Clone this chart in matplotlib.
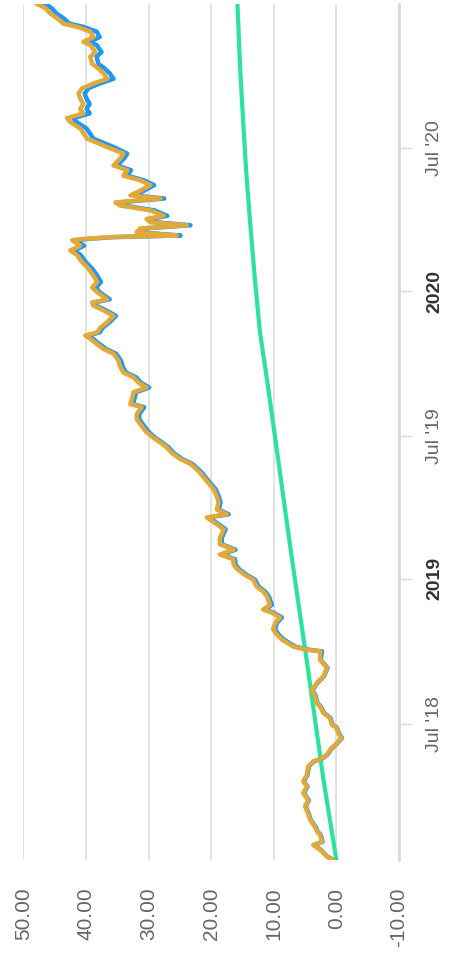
import matplotlib
matplotlib.use("Agg")
import matplotlib.pyplot as plt
import pandas as pd

# shared dates for the two return series
dates = [
    "2018-01-09", "2018-01-13", "2018-01-22", "2018-01-28",
    "2018-02-01", "2018-02-10", "2018-02-14", "2018-02-20",
    "2018-03-01", "2018-03-09", "2018-03-18", "2018-03-26",
    "2018-04-04", "2018-04-12", "2018-04-19", "2018-04-27",
    "2018-05-08", "2018-05-14", "2018-05-18", "2018-05-23", "2018-05-29",
    "2018-06-06", "2018-06-13", "2018-06-19", "2018-06-26", "2018-06-30",
    "2018-07-08", "2018-07-15", "2018-07-23", "2018-07-27",
    "2018-08-05", "2018-08-13", "2018-08-22", "2018-08-30",
    "2018-09-10", "2018-09-20",
    "2018-10-01", "2018-10-03", "2018-10-07", "2018-10-12", "2018-10-16", "2018-10-22", "2018-10-29",
    "2018-11-06", "2018-11-13", "2018-11-19", "2018-11-23", "2018-11-29",
    "2018-12-10", "2018-12-16", "2018-12-22", "2018-12-31",
    "2019-01-06", "2019-01-13", "2019-01-19", "2019-01-26",
    "2019-02-01", "2019-02-07", "2019-02-14", "2019-02-22",
    "2019-03-05", "2019-03-13", "2019-03-20", "2019-03-24", "2019-03-30",
    "2019-04-08", "2019-04-16", "2019-04-25",
    "2019-05-05", "2019-05-16", "2019-05-22", "2019-05-27",
    "2019-06-02", "2019-06-10", "2019-06-17", "2019-06-23", "2019-06-29",
    "2019-07-06", "2019-07-14", "2019-07-23", "2019-07-29",
    "2019-08-07", "2019-08-11", "2019-08-19", "2019-08-26",
    "2019-09-01", "2019-09-07", "2019-09-14", "2019-09-20", "2019-09-27",
    "2019-10-05", "2019-10-14", "2019-10-20", "2019-10-26",
    "2019-11-02", "2019-11-06", "2019-11-10", "2019-11-16", "2019-11-23",
    "2019-12-01", "2019-12-08", "2019-12-14", "2019-12-18", "2019-12-22", "2019-12-31",
    "2020-01-06", "2020-01-13", "2020-01-21", "2020-01-30",
    "2020-02-07", "2020-02-16", "2020-02-22", "2020-02-28",
    "2020-03-06", "2020-03-08", "2020-03-10", "2020-03-12", "2020-03-16", "2020-03-21", "2020-03-25", "2020-03-29",
    "2020-04-02", "2020-04-06", "2020-04-13", "2020-04-19", "2020-04-23", "2020-04-28",
    "2020-05-02", "2020-05-08", "2020-05-15", "2020-05-21", "2020-05-27",
    "2020-06-03", "2020-06-09", "2020-06-18", "2020-06-24",
    "2020-07-01", "2020-07-07", "2020-07-13", "2020-07-26",
    "2020-08-03", "2020-08-08", "2020-08-14", "2020-08-20", "2020-08-26",
    "2020-09-02", "2020-09-08", "2020-09-15", "2020-09-21", "2020-09-27",
    "2020-10-04", "2020-10-10", "2020-10-16", "2020-10-25", "2020-10-31",
    "2020-11-09", "2020-11-13", "2020-11-19", "2020-11-26",
    "2020-12-02", "2020-12-06", "2020-12-13", "2020-12-19", "2020-12-26", "2020-12-31",
]

portfolio = [
    0.5, 1.5, 2.6, 3.7,
    2.3, 2.6, 3.1, 3.4,
    4.2, 4.5, 5.0, 4.5,
    5.3, 4.7, 5.3, 4.7,
    4.5, 3.7, 2.3, 1.5, 1.0,
    0.0, -0.8, -0.3, 0.0, 0.75,
    1.0, 2.1, 2.6, 3.1,
    3.4, 3.9, 3.1, 2.1,
    1.5, 2.6,
    2.6, 4.7, 6.9, 7.9, 8.7, 9.5, 10.1,
    9.8, 9.0, 10.3, 11.7, 10.6,
    11.1, 11.7, 12.7, 13.3,
    14.6, 15.8, 16.4, 16.5,
    18.6, 16.4, 18.6, 18.6,
    18.0, 19.4, 20.7, 17.5, 19.1,
    18.8, 19.1, 19.6,
    20.7, 21.8, 22.6, 23.3,
    24.9, 26.3, 27.1, 28.1, 29.2,
    30.3, 31.1, 31.9, 31.9,
    31.1, 32.9, 32.6, 32.4,
    30.3, 31.6, 32.4, 34.0, 34.5,
    34.8, 35.6, 37.2, 38.2,
    39.3, 40.1, 38.2, 37.7, 36.6,
    35.6, 37.2, 38.8, 39.0, 36.6, 38.2,
    39.0, 38.2, 38.8, 39.6,
    40.6, 41.4, 42.5, 40.9,
    42.2, 39.8, 36.1, 25.5, 31.9, 31.3, 23.9, 29.7,
    30.3, 27.6, 29.7, 34.5, 35.3, 28.1,
    32.9, 31.3, 29.7, 31.3, 34.0,
    33.4, 35.6, 34.5, 34.0,
    36.2, 38.0, 39.8, 40.9,
    42.5, 43.0, 40.4, 40.9, 40.4,
    40.9, 41.2, 40.6, 38.8, 36.6,
    37.2, 38.0, 39.0, 39.3, 38.5,
    39.3, 40.4, 38.8, 39.3,
    41.4, 43.6, 44.6, 45.7, 46.5, 47.8,
]

index_fund = [
    0.4, 1.4, 2.5, 3.6,
    2.2, 2.5, 3.0, 3.3,
    4.1, 4.4, 4.9, 4.4,
    5.2, 4.6, 5.2, 4.6,
    4.4, 3.6, 2.2, 1.4, 0.9,
    -0.1, -0.9, -0.4, -0.1, 0.65,
    0.9, 2.0, 2.5, 3.0,
    3.3, 3.8, 3.0, 2.0,
    1.4, 2.5,
    2.3, 4.4, 6.6, 7.6, 8.4, 9.2, 9.8,
    9.5, 8.7, 10.0, 11.4, 10.3,
    10.8, 11.4, 12.4, 13.0,
    14.3, 15.5, 16.1, 16.2,
    18.3, 16.1, 18.3, 18.3,
    17.7, 19.1, 20.4, 17.2, 18.8,
    18.5, 18.8, 19.3,
    20.4, 21.5, 22.3, 23.0,
    24.6, 26.0, 26.8, 27.8, 28.9,
    29.9, 30.7, 31.5, 31.5,
    30.7, 32.5, 32.2, 32.0,
    29.9, 31.2, 32.0, 33.6, 34.1,
    34.4, 35.2, 36.8, 37.8,
    38.9, 39.7, 37.8, 37.3, 36.2,
    35.2, 36.8, 38.4, 38.6, 36.2, 37.8,
    38.4, 37.6, 38.2, 39.0,
    40.0, 40.8, 41.9, 40.3,
    41.6, 39.2, 35.5, 24.9, 31.3, 30.7, 23.3, 29.1,
    29.7, 27.0, 29.1, 33.9, 34.7, 27.5,
    32.3, 30.7, 29.1, 30.7, 33.4,
    32.8, 35.0, 33.9, 33.4,
    35.2, 37.0, 38.8, 39.9,
    41.5, 42.0, 39.4, 39.9, 39.4,
    39.9, 40.2, 39.6, 37.8, 35.6,
    36.2, 37.0, 38.0, 38.3, 37.5,
    38.3, 39.4, 37.8, 38.3,
    40.4, 42.6, 43.6, 44.7, 45.5, 46.5,
]

benchmark_dates = [
    "2018-01-09", "2018-04-23", "2018-09-12", "2019-02-01", "2019-07-06",
    "2019-09-01", "2019-11-10", "2020-01-15", "2020-03-31", "2020-06-01",
    "2020-08-19", "2020-10-15", "2020-12-31",
]
benchmark = [0.0, 2.1, 4.6, 7.2, 9.9, 10.9, 12.2, 13.0, 13.8, 14.4, 15.0, 15.4, 15.8]

value_ticks = [50, 40, 30, 20, 10, 0, -10]
date_ticks = ["2018-07-01", "2019-01-01", "2019-07-01", "2020-01-01", "2020-07-01"]
date_labels = ["Jul '18", "2019", "Jul '19", "2020", "Jul '20"]

plt.rcParams["font.family"] = ["Liberation Sans", "DejaVu Sans"]

fig = plt.figure(figsize=(4.54, 9.64), dpi=100)
ax = fig.add_axes([23.3 / 454, 104 / 964, 375.7 / 454, 856 / 964])

# chart is drawn turned on its side: time runs upward, values grow to the left
t = pd.to_datetime(dates)
ax.plot(benchmark, pd.to_datetime(benchmark_dates), color="#2de29c", lw=3.0,
        solid_capstyle="round", solid_joinstyle="round", zorder=3)
ax.plot(index_fund, t, color="#2196f3", lw=3.2, solid_joinstyle="round", zorder=4)
ax.plot(portfolio, t, color="#e1a93a", lw=3.2, solid_joinstyle="round", zorder=5)

ax.set_xlim(50, -10)
ax.set_ylim(pd.Timestamp("2018-01-09"), pd.Timestamp("2020-12-31"))

ax.set_xticks(value_ticks)
ax.set_xticklabels([f"{v:.2f}" for v in value_ticks], rotation=90, ha="center", va="top")
ax.tick_params(axis="x", length=0, pad=20, labelsize=15, labelcolor="#666666")
ax.grid(axis="x", color="#e3e3e3", lw=1.4, zorder=0)

ax.yaxis.tick_right()
ax.set_yticks(pd.to_datetime(date_ticks))
ax.set_yticklabels(date_labels)
ax.tick_params(axis="y", length=9.5, width=1, color="#d9d9d9", pad=10,
               labelsize=14, labelcolor="#666666")
for lbl in ax.get_yticklabels():
    lbl.set_rotation(90)
    lbl.set_va("center")
    lbl.set_ha("left")
    if lbl.get_text() in ("2019", "2020"):
        lbl.set_fontweight("bold")
        lbl.set_color("#333333")

for side in ("top", "bottom", "left"):
    ax.spines[side].set_visible(False)
ax.spines["right"].set_color("#d9d9d9")
ax.spines["right"].set_linewidth(2)

fig.savefig("out.png", dpi=100)
